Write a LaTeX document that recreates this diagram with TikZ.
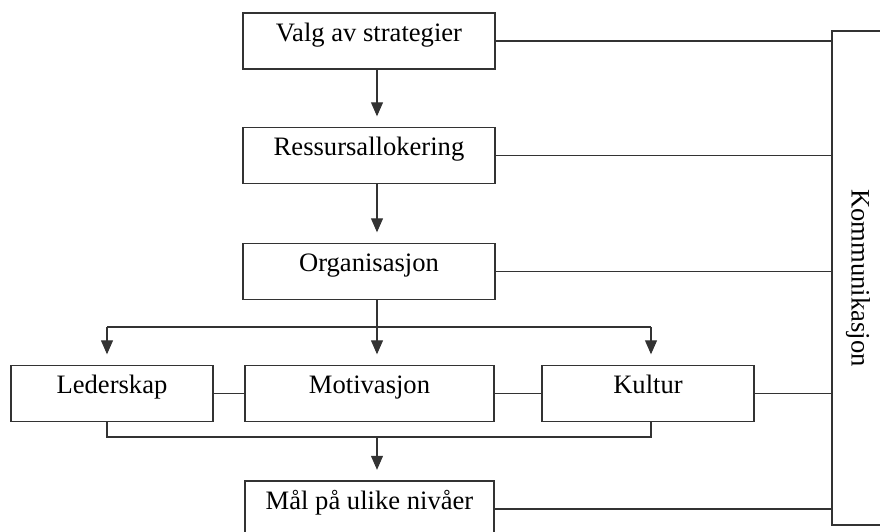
\documentclass[tikz,border=0pt]{standalone}
\usepackage{fontspec}
\setmainfont{Liberation Serif}
\usetikzlibrary{positioning}
\usetikzlibrary{arrows.meta}

\begin{document}
\begin{tikzpicture}[x=0.03cm, y=-0.03cm,
		linje/.style={draw=black!80, line width=0.9pt},
		boks/.style={linje, inner sep=0pt, text height=0.84cm, text depth=0.84cm, font=\fontsize{22.7pt}{27pt}\selectfont},
		pil/.style={linje, -{Triangle[length=0.42cm, width=0.36cm]}, shorten >=0.32cm}]
			\path[use as bounding box, clip] (0,0) rectangle (880,531);
			% hovedkolonnen
			\node[boks, minimum width=7.56cm] (valg) at (369, 41) {Valg av strategier};
			\node[boks, minimum width=7.56cm] (ressurs) at (369, 155.5) {Ressursallokering};
			\node[boks, minimum width=7.56cm] (org) at (369, 271.5) {Organisasjon};
			\node[boks, minimum width=6.06cm] (leder) at (112, 393.5) {Lederskap};
			\node[boks, minimum width=7.47cm] (motiv) at (369.5, 393.5) {Motivasjon};
			\node[boks, minimum width=6.36cm] (kultur) at (648, 393.5) {Kultur};
			\node[boks, minimum width=7.47cm] (mal) at (369.5, 509) {Mål på ulike nivåer};
			% kommunikasjon
			\node[linje, inner sep=0pt, minimum width=1.56cm, minimum height=14.82cm] (komm) at (858, 278) {};
			\node[rotate=-90, font=\fontsize{22.7pt}{27pt}\selectfont] (kommtekst) at (komm.center) {Kommunikasjon};
			\coordinate (split) at (377, 327);
			\coordinate (venstre) at (107, 327);
			\coordinate (hoyre) at (651, 327);
			\coordinate (samle) at (377, 437);
			\draw[pil] (valg.south -| split) to (ressurs.north -| split);
			\draw[pil] (ressurs.south -| split) to (org.north -| split);
			\draw[pil] (org.south -| split) to (motiv.north -| split);
			\draw[linje] (venstre) to (hoyre);
			\draw[pil] (venstre) to (venstre |- leder.north);
			\draw[pil] (hoyre) to (hoyre |- kultur.north);
			\draw[linje] (leder.east) to (motiv.west);
			\draw[linje] (motiv.east) to (kultur.west);
			\draw[linje] (venstre |- leder.south) -- (venstre |- samle) -- (hoyre |- samle) -- (hoyre |- kultur.south);
			\draw[pil] (samle) to (samle |- mal.north);
			\foreach \boksnavn in {valg, ressurs, org, kultur, mal}
				\draw[linje] (\boksnavn.east) to (\boksnavn.east -| komm.west);
		\end{tikzpicture}
\end{document}
